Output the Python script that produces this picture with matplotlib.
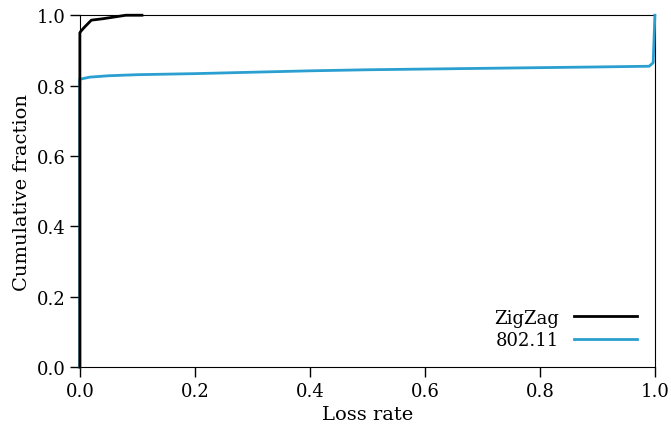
import matplotlib
matplotlib.use("Agg")
import matplotlib.pyplot as plt

# CDF of loss rate
zigzag_loss = [0.0, 0.0, 0.002, 0.008, 0.02, 0.04, 0.06, 0.08, 0.108]
zigzag_frac = [0.0, 0.95, 0.955, 0.966, 0.986, 0.99, 0.995, 1.0, 1.0]

wifi_loss = [0.0, 0.0, 0.017, 0.05, 0.1, 0.2, 0.3, 0.4, 0.5, 0.6, 0.7, 0.8, 0.9, 0.99, 0.997, 1.0]
wifi_frac = [0.0, 0.818, 0.824, 0.828, 0.831, 0.834, 0.838, 0.842, 0.845, 0.847, 0.849, 0.851, 0.853, 0.855, 0.865, 1.0]

plt.rcParams['font.family'] = ['DejaVu Serif']
plt.rcParams['font.size'] = 13

fig = plt.figure(figsize=(6.71, 4.27), dpi=100)
ax = fig.add_axes([0.119, 0.138, 0.857, 0.824])

ax.plot(wifi_loss, wifi_frac, color='#2a9fd0', lw=2, label='802.11', zorder=3, clip_on=False)
ax.plot(zigzag_loss, zigzag_frac, color='black', lw=2, label='ZigZag', zorder=4, clip_on=False)

ax.set_xlim(0, 1)
ax.set_ylim(0, 1)
ax.set_xticks([0, 0.2, 0.4, 0.6, 0.8, 1.0])
ax.set_yticks([0, 0.2, 0.4, 0.6, 0.8, 1.0])
ax.set_xticklabels(['0.0', '0.2', '0.4', '0.6', '0.8', '1.0'])
ax.set_yticklabels(['0.0', '0.2', '0.4', '0.6', '0.8', '1.0'])
ax.tick_params(direction='out', length=7, width=1, labelsize=13)
ax.set_xlabel('Loss rate', fontsize=14)
ax.set_ylabel('Cumulative fraction', fontsize=14)

handles, labels = ax.get_legend_handles_labels()
ax.legend(handles[::-1], labels[::-1], loc='lower right', frameon=False,
          markerfirst=False, handlelength=3.5, fontsize=13,
          labelspacing=0.25, borderaxespad=0.6)

fig.savefig('out.png', dpi=100)
